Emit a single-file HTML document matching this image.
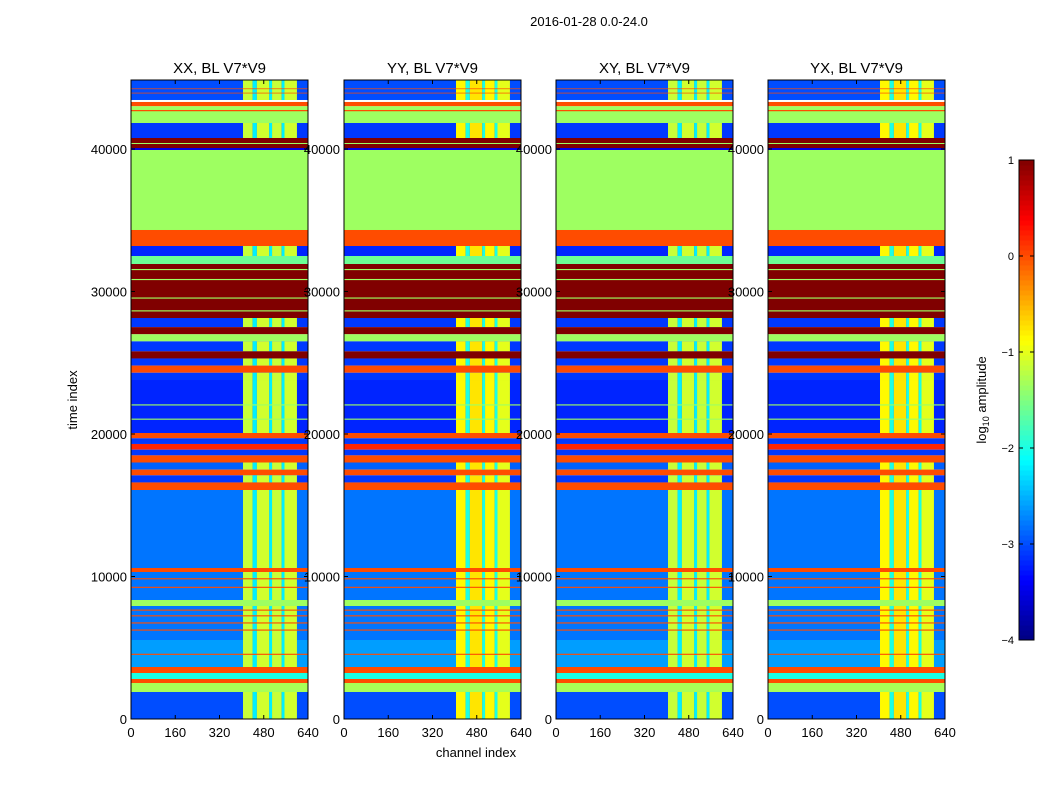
<!DOCTYPE html>
<html><head><meta charset="utf-8"><style>
body{margin:0;background:#fff;}
svg text{font-family:"Liberation Sans",sans-serif;fill:#000;}
</style></head><body>
<svg id="c" width="1050" height="800" xmlns="http://www.w3.org/2000/svg">
<text x="589" y="26" font-size="13" text-anchor="middle">2016-01-28 0.0-24.0</text>
<text transform="translate(77,400) rotate(-90)" font-size="13" text-anchor="middle">time index</text>
<text x="476" y="757" font-size="13" text-anchor="middle">channel index</text>
<text transform="translate(986,400) rotate(-90)" font-size="13" text-anchor="middle">log<tspan font-size="9" dy="3">10</tspan><tspan dy="-3"> amplitude</tspan></text>
<g id="panels"></g>
<g id="cbar"></g>
</svg>
<script>
// Row bands: time start, time end, log10 amplitude, noisy (channel structure) flag
const bandStart = [43439,43900,44200,43000,42737,41825,42650,40772,40070,40350,39930,34316,33193,32491,31930,28140,31500,30800,29500,28600,27500,27000,26500,25800,25300,24800,24300,23789,20070,22000,21000,19700,19300,18900,18500,18000,17500,17100,16600,16070,10596,10316,8351,9800,9200,7930,5544,7600,7200,6700,6200,3649,4500,3228,2807,2526,1895,0];
const bandEnd   = [44842,43950,44250,43300,43000,42737,42737,41825,40772,40420,40070,39930,34316,33193,32491,31930,31580,30880,29580,28680,28140,27500,27000,26500,25800,25300,24800,24300,23789,22080,21080,20070,19700,19300,18900,18500,18000,17500,17100,16600,16070,10596,10316,9880,9280,8351,7930,7680,7280,6780,6280,5544,4580,3649,3228,2807,2526,1895];
const bandValue = [-3.0,0,0,0,-1.35,-1.35,0,-3.1,1,-1.35,-3.5,-1.35,0,-3.2,-1.6,1,-1.35,-1.35,-1.35,-1.35,-3.1,1,-1.35,-3.1,1,-3.1,0,-3.1,-3.2,-1.35,-1.35,0,-3.1,0.2,-3.1,0,-2.9,0,-3.1,0,-2.8,0,-2.8,0,0,-1.35,-2.8,0,0,0,0,-2.6,0,0,-2,0,-1.3,-3.0];
const bandNoisy = [1,0,0,0,0,0,0,1,0,0,0,0,0,1,0,0,0,0,0,0,1,0,0,1,0,1,0,1,1,0,0,0,0,0,0,0,1,0,1,0,1,0,1,0,0,0,1,0,0,0,0,1,0,0,0,0,0,1];
// Channel segments inside noisy rows
const segStart = [405,440,455,500,510,545,555];
const segEnd   = [440,455,500,510,545,555,600];
const segValueA = [-1.15,-2.2,-1.1,-2.2,-1.15,-2.2,-1.1];
const segValueB = [-0.85,-2.0,-0.75,-2.0,-0.85,-2.0,-1.0];
const panelTitles = ["XX, BL V7*V9","YY, BL V7*V9","XY, BL V7*V9","YX, BL V7*V9"];
const panelLeft = [131,344,556,768];
const xTicks = [0,160,320,480,640];
const yTicks = [0,10000,20000,30000,40000];
const cbTicks = [1,0,-1,-2,-3,-4];
const VMIN=-4, VMAX=1, TMAX=44842, CMAX=640;
const PW=177, PT=80, PB=719;
const NS="http://www.w3.org/2000/svg";
function jet(v){
  let t=(v-VMIN)/(VMAX-VMIN); t=Math.max(0,Math.min(1,t));
  const f=(x)=>Math.max(0,Math.min(1,x));
  const r=f(Math.min(4*t-1.5,-4*t+4.5)), g=f(Math.min(4*t-0.5,-4*t+3.5)), b=f(Math.min(4*t+0.5,-4*t+2.5));
  return `rgb(${Math.round(r*255)},${Math.round(g*255)},${Math.round(b*255)})`;
}
const yS=(t)=>PB-(t/TMAX)*(PB-PT);
function mk(tag,attrs,parent){const e=document.createElementNS(NS,tag);for(const k in attrs)e.setAttribute(k,attrs[k]);parent.appendChild(e);return e;}
const panels=document.getElementById('panels');
panelLeft.forEach((L,p)=>{
  const xS=(c)=>L+(c/CMAX)*PW;
  const g=mk('g',{},panels);
  
  
  const segV = (p%2===1)?segValueB:segValueA;
  for(let i=0;i<bandStart.length;i++){
    const y1=yS(bandEnd[i]), y2=yS(bandStart[i]);
    const r=mk('rect',{x:xS(0),y:y1,width:PW,height:Math.max(0.6,y2-y1),fill:jet(bandValue[i])},g);
    
    
    if(bandNoisy[i]){
      for(let s=0;s<segStart.length;s++){
        const c=mk('rect',{x:xS(segStart[s]),y:y1,width:xS(segEnd[s])-xS(segStart[s]),height:y2-y1,fill:jet(segV[s])},g);
        
        
      }
    }
  }
  const fr=mk('rect',{x:L,y:PT,width:PW,height:PB-PT,fill:'none',stroke:'#000','stroke-width':1},g);
  
  
  const tt=mk('text',{x:L+PW/2,y:73,'font-size':15,'text-anchor':'middle'},g);
  tt.textContent=panelTitles[p];
  
  
  xTicks.forEach(v=>{
    const x=xS(v);
    mk('line',{x1:x,x2:x,y1:PB,y2:PB-4,stroke:'#000'},g);
    mk('line',{x1:x,x2:x,y1:PT,y2:PT+4,stroke:'#000'},g);
    const t=mk('text',{x:x,y:737,'font-size':13,'text-anchor':'middle'},g);
    t.textContent=v;
    
    
  });
  yTicks.forEach(v=>{
    const y=yS(v);
    mk('line',{x1:L,x2:L+4,y1:y,y2:y,stroke:'#000'},g);
    mk('line',{x1:L+PW,x2:L+PW-4,y1:y,y2:y,stroke:'#000'},g);
    const t=mk('text',{x:L-4,y:y+5,'font-size':13,'text-anchor':'end'},g);
    t.textContent=v;
    
    
  });
});
// colorbar
const cb=document.getElementById('cbar');
const CX=1019,CW=15,CT=160,CB=640;
const cyS=(v)=>CB-(v-VMIN)/(VMAX-VMIN)*(CB-CT);
for(let k=0;k<96;k++){
  const v0=VMIN+k*(VMAX-VMIN)/96, v1=VMIN+(k+1)*(VMAX-VMIN)/96;
  const r=mk('rect',{x:CX,y:cyS(v1),width:CW,height:cyS(v0)-cyS(v1)+0.5,fill:jet((v0+v1)/2)},cb);
  
  
}
const cf=mk('rect',{x:CX,y:CT,width:CW,height:CB-CT,fill:'none',stroke:'#000'},cb);


cbTicks.forEach(v=>{
  const y=cyS(v);
  mk('line',{x1:CX,x2:CX+4,y1:y,y2:y,stroke:'#000'},cb);
  mk('line',{x1:CX+CW,x2:CX+CW-4,y1:y,y2:y,stroke:'#000'},cb);
  const t=mk('text',{x:1014,y:y+4,'font-size':11,'text-anchor':'end'},cb);
  t.textContent=(v<0?'\u2212'+(-v):v);
  
  
});
</script>
</body></html>
